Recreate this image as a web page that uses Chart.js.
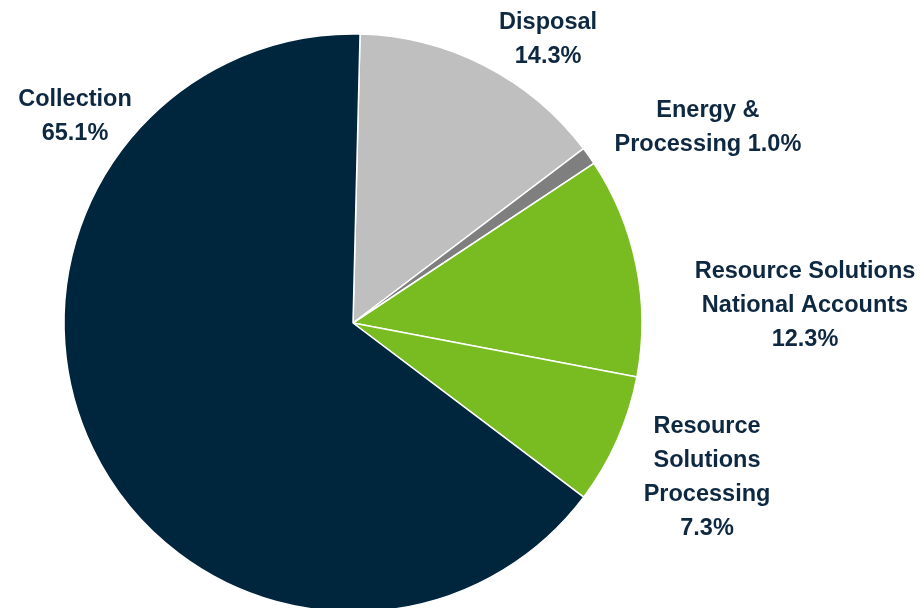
<!DOCTYPE html>
<html>
<head>
<meta charset="utf-8">
<script src="https://cdn.jsdelivr.net/npm/chart.js@4/dist/chart.umd.min.js"></script>
<style>
  html, body { margin: 0; padding: 0; background: #fff; overflow: hidden; }
  #wrap { width: 921px; height: 640px; }
</style>
</head>
<body>
<div id="wrap"><canvas id="canvas" width="921" height="640"></canvas></div>
<script>
// data (clockwise from the top)
var labels = ['Disposal', 'Energy & Processing', 'Resource Solutions National Accounts', 'Resource Solutions Processing', 'Collection'];
var values = [14.3, 1.0, 12.3, 7.3, 65.1];
var labelLines = [['Disposal'], ['Energy &', 'Processing'], ['Resource Solutions', 'National Accounts'], ['Resource', 'Solutions', 'Processing'], ['Collection']];
var pctInline = [false, true, false, false, false];

// style
var colors = ['#bfbfbf', '#7f7f7f', '#78bc21', '#78bc21', '#00263e'];
// label centre relative to pie centre, in pie radii
var labelOffsets = [[0.675, -0.98], [1.228, -0.678], [1.564, -0.059], [1.225, 0.536], [-0.962, -0.716]];

var outsideLabels = {
    id: 'outsideLabels',
    afterDatasetsDraw: function(chart) {
        var ctx = chart.ctx;
        var meta = chart.getDatasetMeta(0);
        ctx.save();
        ctx.font = 'bold 23.5px "Liberation Sans", Arial, sans-serif';
        ctx.fillStyle = '#0e2841';
        ctx.textAlign = 'center';
        ctx.textBaseline = 'middle';
        meta.data.forEach(function(arc, i) {
            var lines = labelLines[i].slice();
            var pct = values[i].toFixed(1) + '%';
            if (pctInline[i]) lines[lines.length - 1] += ' ' + pct;
            else lines.push(pct);
            var r = arc.outerRadius;
            var cx = arc.x + labelOffsets[i][0] * r;
            var cy = arc.y + labelOffsets[i][1] * r;
            var lh = 34;
            var y0 = cy - (lines.length - 1) * lh / 2;
            lines.forEach(function(t, j) {
                ctx.fillText(t, cx, y0 + j * lh);
            });
        });
        ctx.restore();
    }
};

new Chart(document.getElementById('canvas').getContext('2d'), {
    type: 'pie',
    data: {
        labels: labels,
        datasets: [{
            data: values,
            backgroundColor: colors,
            borderColor: '#ffffff',
            borderWidth: 1.5
        }]
    },
    options: {
        responsive: false,
        animation: false,
        rotation: 1.4,
        radius: 289,
        layout: { padding: { left: 64, right: 279, top: 34, bottom: 28 } },
        plugins: {
            legend: { display: false },
            tooltip: { enabled: false }
        }
    },
    plugins: [outsideLabels]
});
</script>
</body>
</html>
